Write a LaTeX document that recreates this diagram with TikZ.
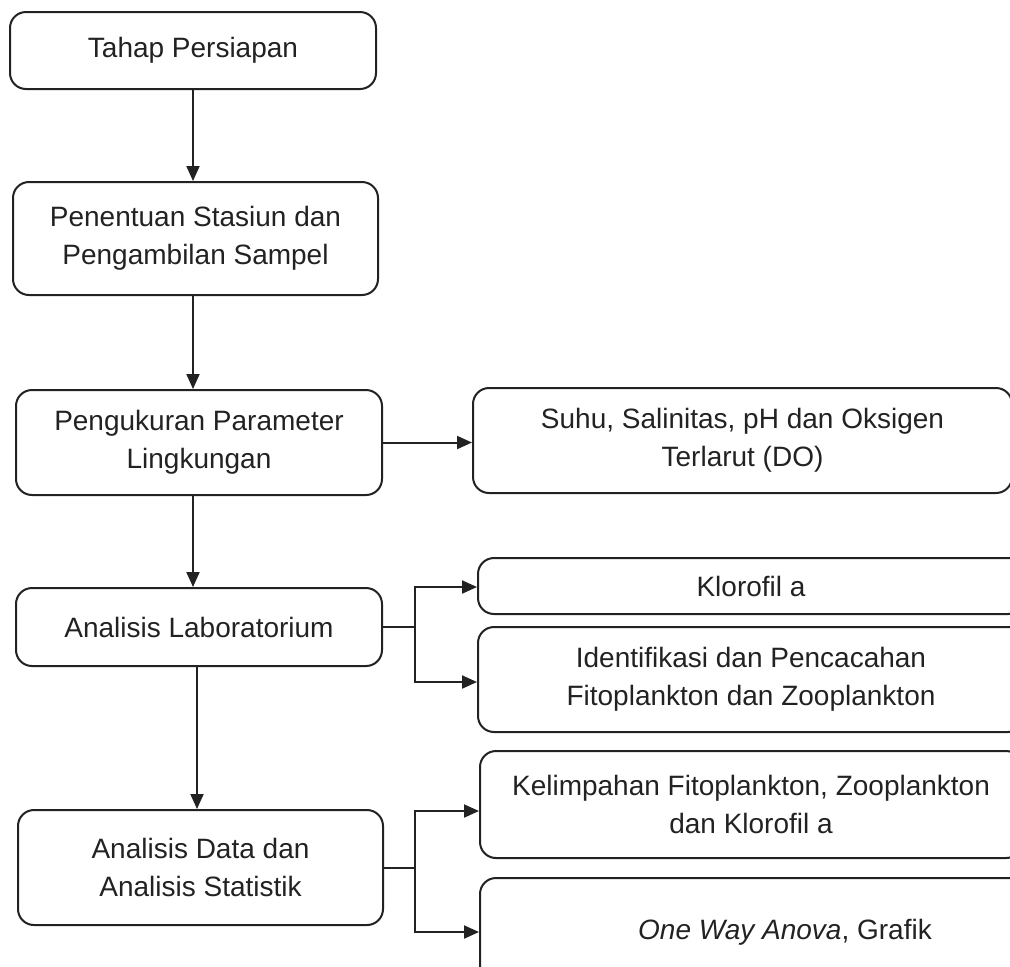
\documentclass[tikz,border=0pt]{standalone}
\usepackage{fontspec}
\setmainfont{Liberation Sans}
\usetikzlibrary{arrows.meta,positioning,calc}
\definecolor{ink}{HTML}{222222}

\begin{document}
\begin{tikzpicture}[node distance=45.5pt and 44.5pt,>={Triangle[length=7.5pt,width=6.5pt]},
 color=ink,line width=1pt,
 box/.style={draw,rounded corners=8pt,align=center,inner sep=0pt,
 font=\fontsize{14}{19}\selectfont,minimum width=183pt,minimum height=52.5pt},
 side/.style={box,minimum width=273pt}]
\useasboundingbox (0,0) rectangle (505pt,-483pt);
\clip (0,0) rectangle (505pt,-483pt);
\node[box,minimum height=38.5pt] (a) at (96.5pt,-25.25pt) {Tahap Persiapan};
\node[box,minimum width=182.5pt,minimum height=56.5pt,below=of a,xshift=1.25pt] (b) {Penentuan Stasiun dan\\Pengambilan Sampel};
\node[box,below=46.5pt of b,xshift=1.75pt] (c) {Pengukuran Parameter\\Lingkungan};
\node[box,minimum height=39pt,below=of c] (d) {Analisis Laboratorium};
\node[box,minimum width=182.5pt,minimum height=57.5pt,below=71pt of d,xshift=0.75pt] (e) {Analisis Data dan\\Analisis Statistik};
\node[side,minimum width=269.5pt,right=of c,yshift=1pt] (f) {Suhu, Salinitas, pH dan Oksigen\\Terlarut (DO)};
\node[side,minimum height=28pt,right=47pt of d,yshift=20.5pt] (g) {Klorofil a};
\node[side,below=5.5pt of g] (h) {Identifikasi dan Pencacahan\\Fitoplankton dan Zooplankton};
\node[side,minimum width=271pt,minimum height=53.5pt,right=47.5pt of e,yshift=31.5pt] (i) {Kelimpahan Fitoplankton, Zooplankton\\dan Klorofil a};
\node[side,minimum width=305pt,minimum height=54pt,below right=9pt and 0pt of i.south west] (j) {\textit{One Way Anova}, Grafik};
\coordinate[right=16pt of d.east] (dj);
\coordinate[right=15.5pt of e.east] (ej);
\draw[->] (a.south) -- (a.south |- b.north);
\draw[->] (b.south -| a.south) -- (a.south |- c.north);
\draw[->] (c.south -| a.south) -- (a.south |- d.north);
\draw[->] ([xshift=-1pt]d.south) -- ([xshift=-1pt]d.south |- e.north);
\draw[->] (c.east) -- (c.east -| f.west);
\draw (d.east) -- (dj); \draw[->] (dj) |- ([yshift=-0.5pt]g.west);
\draw[->] (dj) |- ([yshift=-1.25pt]h.west);
\draw (e.east) -- (ej); \draw[->] (ej) |- ([yshift=-3.25pt]i.west);
\draw[->] (ej) |- (j.west);
\end{tikzpicture}
\end{document}
